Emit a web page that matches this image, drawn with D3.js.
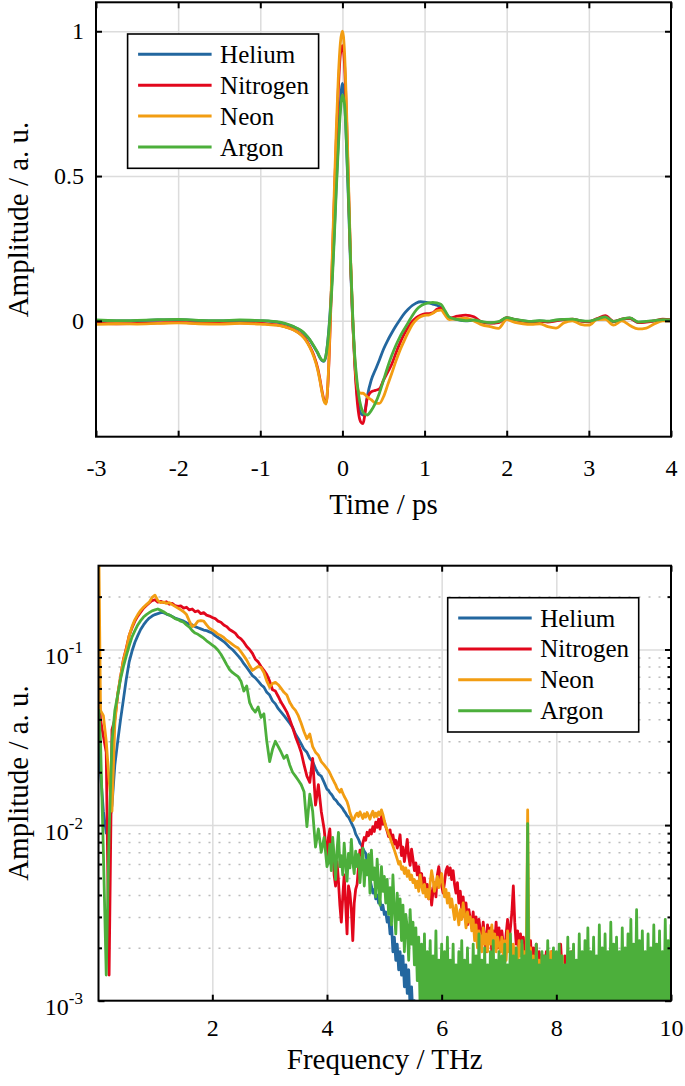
<!DOCTYPE html>
<html><head><meta charset="utf-8">
<script src="https://cdn.jsdelivr.net/npm/d3@7"></script>
<style>
body{margin:0;background:#fff}
svg{display:block}
</style>
</head><body>
<svg id="c" width="685" height="1086"></svg>
<script>
// ---------------- DATA ----------------
const seriesNames = ["Helium", "Nitrogen", "Neon", "Argon"];
const seriesColors = ["#23679f", "#e2071c", "#f29d12", "#4caf3b"];

// Time-domain (top panel)
const timePs = [
  -3,-2.75,-2.5,-2.25,-2,-1.75,-1.5,-1.25,-1,
  -0.9,-0.8,-0.7,-0.6,-0.5,-0.45,-0.4,-0.35,-0.3,
  -0.275,-0.25,-0.225,-0.2,-0.175,-0.15,-0.125,-0.1,-0.075,-0.05,-0.025,0,0.025,0.05,0.075,0.1,0.125,0.15,0.175,0.2,0.225,0.25,0.275,0.3,
  0.35,0.4,0.45,0.5,0.55,0.6,0.65,0.7,0.75,0.8,0.85,0.9,0.95,1,1.05,1.1,1.15,1.2,1.25,1.3,
  1.4,1.5,1.6,1.7,1.8,1.9,2,2.1,2.2,2.3,2.4,2.5,2.6,2.7,2.8,2.9,3,3.1,3.2,3.3,3.4,3.5,3.6,3.7,3.8,3.9,4
];
const heliumTime = [
  0.002,0,0.001,0.003,0.004,0.001,0,0.002,0,
  -0.001,-0.004,-0.01,-0.02,-0.035,-0.048,-0.065,-0.088,-0.112,
  -0.127,-0.137,-0.14,-0.12,-0.06,0.03,0.15,0.3,0.47,0.62,0.75,0.82,0.77,0.6,0.4,0.18,0,-0.14,-0.24,-0.3,-0.32,-0.325,-0.31,-0.265,
  -0.205,-0.17,-0.135,-0.098,-0.068,-0.042,-0.018,0.004,0.024,0.04,0.053,0.062,0.066,0.065,0.062,0.058,0.054,0.046,0.03,0.012,
  0.004,0,0.002,-0.004,-0.007,-0.004,0.01,0.004,0,-0.003,0,-0.002,0.002,0.004,0.005,0,-0.002,0.005,0.013,-0.003,0.005,0.009,-0.005,-0.003,0,0.003,0.002
];
const nitrogenTime = [
  -0.008,-0.01,-0.009,-0.007,-0.005,-0.008,-0.009,-0.007,-0.009,
  -0.011,-0.014,-0.02,-0.03,-0.048,-0.063,-0.087,-0.118,-0.165,
  -0.2,-0.24,-0.272,-0.283,-0.21,-0.03,0.19,0.41,0.62,0.8,0.92,0.95,0.89,0.7,0.45,0.2,0,-0.15,-0.26,-0.325,-0.35,-0.355,-0.32,-0.27,
  -0.245,-0.24,-0.235,-0.205,-0.178,-0.15,-0.112,-0.077,-0.047,-0.022,-0.002,0.011,0.019,0.024,0.025,0.028,0.04,0.045,0.026,0.01,
  0.016,0.02,0.014,-0.004,-0.008,-0.006,0.011,0.004,-0.001,-0.004,-0.002,-0.004,0,0.004,0.006,-0.001,-0.003,0.008,0.018,-0.002,0.006,0.009,-0.006,-0.004,0,0.006,0.004
];
const neonTime = [
  -0.012,-0.01,-0.011,-0.009,-0.007,-0.01,-0.011,-0.009,-0.011,
  -0.013,-0.015,-0.021,-0.031,-0.05,-0.066,-0.09,-0.122,-0.17,
  -0.205,-0.245,-0.277,-0.287,-0.205,-0.015,0.21,0.44,0.66,0.84,0.96,1.0,0.93,0.73,0.47,0.21,0.01,-0.13,-0.215,-0.245,-0.25,-0.25,-0.255,-0.262,
  -0.272,-0.283,-0.285,-0.262,-0.222,-0.182,-0.14,-0.102,-0.07,-0.04,-0.013,0.004,0.014,0.019,0.02,0.026,0.035,0.037,0.02,0.004,
  0.007,0.009,0,-0.014,-0.02,-0.026,0.004,-0.005,-0.01,-0.012,-0.01,-0.02,-0.025,-0.006,0,-0.012,-0.015,0.004,0.005,-0.015,0,-0.016,-0.028,-0.025,-0.01,0,0
];
const argonTime = [
  0.003,0.001,0.002,0.004,0.005,0.002,0.001,0.003,0.001,
  0,-0.003,-0.009,-0.019,-0.034,-0.047,-0.064,-0.086,-0.11,
  -0.125,-0.135,-0.138,-0.118,-0.065,0.02,0.13,0.28,0.45,0.6,0.72,0.78,0.75,0.61,0.42,0.2,0.02,-0.12,-0.2,-0.26,-0.295,-0.315,-0.322,-0.325,
  -0.31,-0.285,-0.25,-0.205,-0.16,-0.12,-0.085,-0.055,-0.03,-0.006,0.018,0.038,0.051,0.058,0.062,0.064,0.062,0.057,0.035,0.013,
  0.005,0.001,0.003,-0.003,-0.006,-0.003,0.011,0.005,0.001,-0.002,0.001,-0.001,0.003,0.005,0.006,0.001,-0.001,0.006,0.014,-0.002,0.006,0.01,-0.004,-0.002,0.001,0.004,0.003
];
const timeTicks = [-3,-2,-1,0,1,2,3,4];
const timeAmpTicks = [0,0.5,1];

// Spectra (bottom panel). Sample positions: 0.02 THz, every 0.05 THz to 4 THz, then every 0.025 THz to 10 THz
const freqTHz = [0.02].concat(
  d3.range(1, 81).map(i => +(i * 0.05).toFixed(3)),
  d3.range(1, 241).map(i => +(4 + i * 0.025).toFixed(3))
);
const heliumSpec = [0.03,
  0.02,0.012,0.009,0.01,0.013,0.022,0.03,0.04,0.052,0.068,0.085,0.098,0.11,0.12,0.13,0.138,0.145,0.151,0.155,0.158,
  0.16,0.162,0.162,0.159,0.157,0.154,0.151,0.149,0.147,0.145,0.142,0.14,0.138,0.135,0.133,0.131,0.129,0.128,0.126,0.124,
  0.12,0.117,0.114,0.111,0.107,0.103,0.1,0.096,0.092,0.088,0.083,0.079,0.075,0.071,0.069,0.066,0.063,0.061,0.057,0.055,
  0.051,0.049,0.046,0.044,0.042,0.04,0.038,0.036,0.033,0.031,0.029,0.027,0.026,0.024,0.023,0.021,0.0195,0.019,0.0175,0.016,
  0.0158,0.0153,0.015,0.0146,0.0141,0.0139,0.0136,0.0132,0.013,0.0127,0.0124,0.012,0.0117,0.0113,0.0111,0.0107,0.0103,0.0099,0.0095,0.0089,
  0.0086,0.0083,0.0079,0.0077,0.0074,0.0071,0.0069,0.0062,0.0058,0.0049,0.0045,0.0041,0.0043,0.0038,0.004,0.0036,0.0037,0.0033,0.0035,0.0031,
  0.0032,0.0028,0.003,0.0024,0.0027,0.0019,0.0023,0.0017,0.0021,0.0015,0.0019,0.0014,0.0018,0.0012,0.0016,0.0011,0.0015,0.0009,0.0012,0.0008,
  0.001,0.0007,0.0009,0.0006,0.0008,0.0007,0.001,0.0006,0.0008,0.0005,0.0007,0.0006,0.0005,0.0007,0.0006,0.0005,0.0007,0.0006,0.0005,0.0006,
  0.0006,0.0005,0.0007,0.0006,0.0005,0.0007,0.0006,0.0008,0.0006,0.0005,0.0007,0.0006,0.0009,0.0011,0.0007,0.0006,0.0005,0.0007,0.0006,0.0005
];
const nitrogenSpec = [0.06,
  0.04,0.032,0.026,0.0014,0.035,0.04,0.055,0.07,0.088,0.102,0.12,0.133,0.145,0.155,0.163,0.172,0.178,0.184,0.19,0.192,
  0.186,0.188,0.185,0.187,0.181,0.183,0.178,0.176,0.177,0.172,0.174,0.168,0.17,0.164,0.166,0.16,0.162,0.157,0.155,0.152,
  0.15,0.145,0.143,0.138,0.135,0.13,0.127,0.124,0.118,0.115,0.11,0.104,0.1,0.095,0.088,0.085,0.08,0.076,0.072,0.066,
  0.059,0.058,0.054,0.05,0.047,0.044,0.04,0.036,0.032,0.029,0.026,0.022,0.019,0.0175,0.024,0.013,0.017,0.012,0.0095,0.0065,
  0.0085,0.0095,0.0068,0.0078,0.0052,0.0045,0.0062,0.0048,0.0035,0.0028,0.0039,0.0052,0.0036,0.0024,0.0045,0.0041,0.0033,0.0022,0.0036,0.0043,
  0.0046,0.0058,0.0072,0.0068,0.0079,0.0085,0.0082,0.0091,0.0087,0.0094,0.0089,0.0098,0.0092,0.0104,0.0097,0.0108,0.0095,0.0112,0.0101,0.0105,
  0.0098,0.0092,0.0086,0.0094,0.0083,0.0088,0.0078,0.0082,0.0074,0.0079,0.0088,0.0067,0.0075,0.0062,0.0071,0.0083,0.0066,0.0059,0.0073,0.0064,
  0.0055,0.0061,0.0052,0.0058,0.0047,0.0053,0.0044,0.005,0.0041,0.0046,0.0038,0.0044,0.0035,0.0042,0.0047,0.0039,0.0052,0.0058,0.0049,0.0045,
  0.0041,0.0047,0.0055,0.0058,0.0052,0.0057,0.0049,0.0055,0.0046,0.0041,0.0047,0.0036,0.0042,0.0033,0.0039,0.003,0.0036,0.0027,0.0033,0.0029,
  0.0026,0.0032,0.0024,0.003,0.0022,0.0029,0.0025,0.0021,0.0028,0.0023,0.0019,0.0027,0.0022,0.0026,0.0019,0.0025,0.0021,0.0028,0.002,0.0026,
  0.0019,0.0025,0.0021,0.0018,0.0024,0.0029,0.0022,0.0026,0.0032,0.0045,0.0028,0.0021,0.0025,0.0018,0.0024,0.0019,0.0023,0.0017,0.0021,0.0024,
  0.0017,0.0022,0.0016,0.002,0.0015,0.0021,0.0014,0.0019,0.0016,0.0012,0.0018,0.0015,0.0019,0.0013,0.0017,0.0014,0.0019,0.0012,0.0016,0.0018,
  0.0013,0.0017,0.0021,0.0015,0.0012,0.0018,0.0014,0.0016,0.0011,0.0015,0.0019,0.0013,0.0016,0.0011,0.0015,0.0017,0.0012,0.0014,0.001,0.0013,
  0.0016,0.0011,0.0015,0.0018,0.0012,0.0016,0.001,0.0014,0.0017,0.0012,0.0015,0.0011,0.0016,0.0019,0.0013,0.0015,0.0011,0.0014,0.0017,0.0012,
  0.0016,0.0013,0.0015,0.0011,0.0017,0.0014,0.0012,0.0016,0.0019,0.0014,0.0021,0.0015,0.0013,0.0017,0.0012,0.0016,0.0014,0.0018,0.0012,0.0016,
  0.0013,0.0017,0.0012,0.0015,0.0019,0.0014,0.0016,0.0012,0.0017,0.0013,0.0016,0.0019,0.0014,0.0017,0.0012,0.0018,0.0015,0.002,0.0016,0.0021
];
const neonSpec = [0.4,
  0.045,0.042,0.03,0.018,0.012,0.038,0.056,0.07,0.087,0.1,0.12,0.135,0.148,0.158,0.167,0.174,0.18,0.186,0.198,0.204,
  0.19,0.185,0.186,0.183,0.185,0.18,0.176,0.172,0.168,0.164,0.158,0.145,0.135,0.138,0.145,0.146,0.145,0.138,0.132,0.129,
  0.126,0.122,0.12,0.117,0.113,0.11,0.107,0.104,0.102,0.097,0.092,0.087,0.081,0.076,0.078,0.08,0.079,0.074,0.066,0.061,
  0.064,0.065,0.063,0.06,0.057,0.055,0.05,0.047,0.045,0.042,0.038,0.034,0.031,0.033,0.028,0.026,0.025,0.023,0.022,0.021,
  0.0205,0.0198,0.019,0.0183,0.0176,0.017,0.0162,0.0158,0.0154,0.016,0.0152,0.0146,0.0141,0.0136,0.0128,0.0118,0.0112,0.0106,0.0109,0.0114,
  0.0117,0.0112,0.0119,0.0114,0.0109,0.0116,0.0111,0.0118,0.0113,0.0108,0.0115,0.012,0.0111,0.0117,0.0112,0.0119,0.0114,0.0122,0.0115,0.0106,
  0.0098,0.0094,0.0089,0.0085,0.008,0.0076,0.0072,0.0068,0.0064,0.006,0.0062,0.0056,0.0058,0.0053,0.0057,0.0051,0.0055,0.0049,0.0052,0.0047,
  0.0049,0.0044,0.0048,0.0042,0.0052,0.0045,0.0041,0.0046,0.0039,0.0043,0.0038,0.0047,0.0055,0.0049,0.0042,0.0046,0.0051,0.0044,0.0048,0.0053,
  0.0045,0.0039,0.0043,0.0036,0.0041,0.0034,0.0038,0.0033,0.0029,0.0035,0.0031,0.0027,0.0033,0.0029,0.0036,0.0031,0.0026,0.0032,0.0028,0.003,
  0.0025,0.0029,0.0022,0.0027,0.002,0.0025,0.0023,0.0019,0.0026,0.0021,0.0024,0.0019,0.0025,0.0021,0.0027,0.002,0.0024,0.0019,0.0023,0.0021,
  0.0019,0.0023,0.0018,0.0022,0.0017,0.0025,0.0019,0.0022,0.0017,0.0021,0.0016,0.002,0.0015,0.0022,0.0018,0.0021,0.0016,0.0019,0.0017,0.0122,
  0.0015,0.002,0.0014,0.0018,0.0013,0.0019,0.0015,0.0017,0.0012,0.0018,0.0014,0.0016,0.0012,0.0017,0.0013,0.0019,0.0014,0.0016,0.0012,0.0017,
  0.0013,0.0016,0.0012,0.0018,0.0014,0.0015,0.0011,0.0016,0.0013,0.0017,0.0012,0.0014,0.001,0.0013,0.0009,0.0012,0.0016,0.0014,0.0011,0.0015,
  0.0012,0.0016,0.0013,0.0018,0.0011,0.0015,0.0013,0.0017,0.0012,0.0014,0.0011,0.0016,0.0013,0.0015,0.001,0.0014,0.0017,0.0012,0.0015,0.0011,
  0.0014,0.0012,0.0016,0.0009,0.0013,0.0015,0.0011,0.0017,0.0013,0.0016,0.0012,0.0015,0.0011,0.0018,0.0014,0.0016,0.0012,0.0015,0.0013,0.0017,
  0.0012,0.0016,0.0014,0.0018,0.0013,0.0015,0.0011,0.0017,0.0014,0.0019,0.0012,0.0016,0.0013,0.0018,0.0015,0.0017,0.0012,0.0016,0.0014,0.0018
];
const argonSpec = [0.045,
  0.03,0.007,0.0014,0.009,0.03,0.045,0.055,0.068,0.08,0.092,0.105,0.118,0.128,0.138,0.146,0.153,0.158,0.162,0.166,0.168,
  0.17,0.167,0.164,0.16,0.157,0.154,0.15,0.148,0.145,0.143,0.138,0.134,0.128,0.124,0.122,0.119,0.116,0.112,0.109,0.106,
  0.103,0.099,0.094,0.088,0.082,0.077,0.074,0.072,0.07,0.066,0.058,0.062,0.05,0.046,0.044,0.047,0.041,0.043,0.03,0.023,
  0.027,0.03,0.028,0.026,0.024,0.025,0.022,0.02,0.019,0.018,0.017,0.0155,0.0098,0.015,0.012,0.0075,0.0095,0.007,0.0085,0.0058,
  0.0062,0.0078,0.0055,0.0085,0.0066,0.0049,0.0072,0.0091,0.0058,0.0067,0.0052,0.0079,0.0061,0.0048,0.0069,0.0057,0.0083,0.0062,0.0053,0.0071,
  0.0058,0.0068,0.0047,0.0061,0.0074,0.0045,0.0063,0.0052,0.0068,0.0041,0.0072,0.0049,0.0057,0.0039,0.0064,0.0046,0.0035,0.0058,0.0042,0.0051,
  0.0036,0.0049,0.0031,0.0044,0.0027,0.0052,0.0033,0.0024,0.0041,0.0029,0.0038,0.0022,0.0035,0.0019,0.0031,0.0026,0.0017,0.0033,0.0021,0.0028,
  0.0016,0.0026,0.0013,0.0023,0.0009,0.0021,0.0008,0.0024,0.0007,0.0019,0.0008,0.0022,0.0007,0.0018,0.0008,0.0025,0.0007,0.0017,0.0008,0.0021,
  0.0007,0.0019,0.0008,0.0023,0.0007,0.0017,0.0008,0.0021,0.0007,0.0016,0.0008,0.0019,0.0007,0.0022,0.0008,0.0017,0.0007,0.002,0.0008,0.0016,
  0.0007,0.0021,0.0008,0.0018,0.0007,0.0024,0.0008,0.0017,0.0007,0.002,0.0008,0.0016,0.0007,0.0019,0.0008,0.0022,0.0007,0.0017,0.0008,0.0019,
  0.0007,0.0018,0.0008,0.0021,0.0007,0.0016,0.0008,0.0024,0.0007,0.0018,0.0008,0.002,0.0007,0.0017,0.0008,0.0022,0.0007,0.0018,0.0008,0.0102,
  0.0007,0.0019,0.0008,0.0017,0.0007,0.0021,0.0008,0.0016,0.0007,0.0019,0.0008,0.0018,0.0007,0.0022,0.0008,0.0017,0.0007,0.002,0.0008,0.0019,
  0.0007,0.0021,0.0008,0.0018,0.0007,0.0016,0.0008,0.0023,0.0007,0.0019,0.0008,0.0021,0.0007,0.0017,0.0008,0.0024,0.0007,0.0019,0.0008,0.0022,
  0.0007,0.0026,0.0008,0.0019,0.0007,0.0023,0.0008,0.0018,0.0007,0.0027,0.0008,0.002,0.0007,0.0024,0.0008,0.0019,0.0007,0.0028,0.0008,0.0021,
  0.0007,0.0023,0.0008,0.0019,0.0007,0.0026,0.0008,0.002,0.0007,0.0024,0.0008,0.0029,0.0007,0.0021,0.0008,0.0033,0.0007,0.0022,0.0008,0.0025,
  0.0007,0.0019,0.0008,0.0024,0.0007,0.002,0.0008,0.0027,0.0007,0.0021,0.0008,0.0025,0.0007,0.0019,0.0008,0.0029,0.0007,0.0022,0.0008,0.0027
];
const freqTicks = [2,4,6,8,10];
const specMajorTicks = [1e-3, 1e-2, 1e-1];
const specMinorTicks = [2e-3,3e-3,4e-3,5e-3,6e-3,7e-3,8e-3,9e-3,2e-2,3e-2,4e-2,5e-2,6e-2,7e-2,8e-2,9e-2,2e-1];

const timeSeries = [heliumTime, nitrogenTime, neonTime, argonTime];
const specSeries = [heliumSpec, nitrogenSpec, neonSpec, argonSpec];

// ---------------- DRAWING ----------------
const FONT = '"Liberation Serif","Times New Roman",Times,serif';
const TICK_FS = 24, TITLE_FS = 29, LEG_FS = 25;
const GRID = "#dcdcdc";
const svg = d3.select("#c");

function styleAxis(g) {
  g.attr("font-family", FONT).attr("font-size", TICK_FS);
  g.select(".domain").remove();
  g.selectAll(".tick line").attr("stroke", "#000").attr("stroke-width", 2);
  g.selectAll(".tick text").attr("fill", "#000");
}
function grid(g, stroke, width, dash) {
  g.select(".domain").remove();
  g.selectAll("text").remove();
  g.selectAll(".tick line").attr("stroke", stroke).attr("stroke-width", width)
    .attr("stroke-dasharray", dash || null);
}

function panel(cfg) {
  const {L, R, T, B, x, y, xs, series, curve, xTickVals, yTickVals, yMinor, yLabelFmt, xTitle, xTitleY, yTitleY, legend, id, xPad} = cfg;
  const root = svg.append("g");
  // grid
  root.append("g").attr("transform", `translate(0,${B})`)
    .call(d3.axisBottom(x).tickValues(xTickVals.filter(v => x(v) > L + 1 && x(v) < R - 1)).tickSize(-(B - T)).tickFormat(""))
    .call(g => grid(g, GRID, 1.5));
  if (yMinor) {
    root.append("g").attr("transform", `translate(${L},0)`)
      .call(d3.axisLeft(y).tickValues(yMinor).tickSize(-(R - L)).tickFormat(""))
      .call(g => grid(g, "#bcbcbc", 1.5, "2 8"));
  }
  root.append("g").attr("transform", `translate(${L},0)`)
    .call(d3.axisLeft(y).tickValues(yTickVals.filter(v => y(v) > T + 1 && y(v) < B - 1)).tickSize(-(R - L)).tickFormat(""))
    .call(g => grid(g, GRID, 1.5));

  // clip
  svg.append("clipPath").attr("id", id).append("rect")
    .attr("x", L).attr("y", T).attr("width", R - L).attr("height", B - T);
  const lines = root.append("g").attr("clip-path", `url(#${id})`);
  const line = d3.line().x((d, i) => x(xs[i])).y(d => y(d)).curve(curve);
  series.forEach((s, k) => {
    lines.append("path").attr("d", line(s)).attr("fill", "none")
      .attr("stroke", seriesColors[k]).attr("stroke-width", 2.8)
      .attr("stroke-linejoin", "round").attr("stroke-linecap", "round");
  });

  // axes with inward ticks
  root.append("g").attr("transform", `translate(0,${B})`)
    .call(d3.axisBottom(x).tickValues(xTickVals).tickSize(-6).tickPadding(xPad).tickFormat(d => String(d)))
    .call(styleAxis);
  root.append("g").attr("transform", `translate(0,${T})`)
    .call(d3.axisTop(x).tickValues(xTickVals).tickSize(-6).tickFormat(""))
    .call(styleAxis);
  const ay = root.append("g").attr("transform", `translate(${L},0)`)
    .call(d3.axisLeft(y).tickValues(yTickVals).tickSize(-6).tickPadding(cfg.yPad).tickFormat(d => String(d)))
    .call(styleAxis);
  root.append("g").attr("transform", `translate(${R},0)`)
    .call(d3.axisRight(y).tickValues(yTickVals).tickSize(-6).tickFormat(""))
    .call(styleAxis);
  if (yMinor) {
    root.append("g").attr("transform", `translate(${L},0)`)
      .call(d3.axisLeft(y).tickValues(yMinor).tickSize(-3.5).tickFormat(""))
      .call(styleAxis);
    root.append("g").attr("transform", `translate(${R},0)`)
      .call(d3.axisRight(y).tickValues(yMinor).tickSize(-3.5).tickFormat(""))
      .call(styleAxis);
  }
  if (yLabelFmt) {
    ay.selectAll(".tick text").each(function (d) {
      const t = d3.select(this);
      t.text(null).attr("dy", null).attr("y", 14);
      t.append("tspan").text("10");
      t.append("tspan").attr("dy", -11).attr("font-size", 17).text(String(Math.round(Math.log10(d))));
    });
  }
  // box
  root.append("rect").attr("x", L).attr("y", T).attr("width", R - L).attr("height", B - T)
    .attr("fill", "none").attr("stroke", "#000").attr("stroke-width", 2);

  // titles
  root.append("text").attr("x", (L + R) / 2).attr("y", xTitleY).attr("text-anchor", "middle")
    .attr("font-family", FONT).attr("font-size", TITLE_FS).text(xTitle);
  root.append("text").attr("transform", `translate(28,${yTitleY}) rotate(-90)`).attr("text-anchor", "middle")
    .attr("font-family", FONT).attr("font-size", TITLE_FS).text("Amplitude / a. u.");

  // legend
  const lg = root.append("g");
  lg.append("rect").attr("x", legend.x).attr("y", legend.y).attr("width", 191).attr("height", 134.3)
    .attr("fill", "#fff").attr("stroke", "#000").attr("stroke-width", 1.6);
  seriesNames.forEach((n, k) => {
    const ry = legend.y + 20.3 + k * 30.9;
    lg.append("line").attr("x1", legend.x + 10.5).attr("x2", legend.x + 84).attr("y1", ry).attr("y2", ry)
      .attr("stroke", seriesColors[k]).attr("stroke-width", 3);
    lg.append("text").attr("x", legend.x + 92.5).attr("y", ry + 8.5).attr("font-family", FONT)
      .attr("font-size", LEG_FS).text(n);
  });
}

// Top panel
const xTime = d3.scaleLinear().domain([-3, 4]).range([96, 671]);
const yTime = d3.scaleLinear().domain([-0.4, 1.1]).range([436.7, 2.3]);
panel({
  id: "clipTop", L: 96, R: 671, T: 2.3, B: 436.7, x: xTime, y: yTime, xs: timePs,
  series: timeSeries, curve: d3.curveMonotoneX, xTickVals: timeTicks, yTickVals: timeAmpTicks,
  yPad: 12, xPad: 22.5, xTitle: "Time / ps", xTitleY: 514, yTitleY: 219.5,
  legend: {x: 127.6, y: 34}
});

// Bottom panel
const xFreq = d3.scaleLinear().domain([0.015, 10]).range([98.5, 671]);
const yFreq = d3.scaleLog().domain([1e-3, 0.3]).range([1000.7, 565.7]);
panel({
  id: "clipBot", L: 98.5, R: 671, T: 565.7, B: 1000.7, x: xFreq, y: yFreq, xs: freqTHz,
  series: specSeries, curve: d3.curveLinear, xTickVals: freqTicks, yTickVals: specMajorTicks,
  yMinor: specMinorTicks, yLabelFmt: true, yPad: 15.5, xPad: 18.5,
  xTitle: "Frequency / THz", xTitleY: 1069, yTitleY: 783,
  legend: {x: 447.7, y: 597.7}
});
</script>
</body></html>
